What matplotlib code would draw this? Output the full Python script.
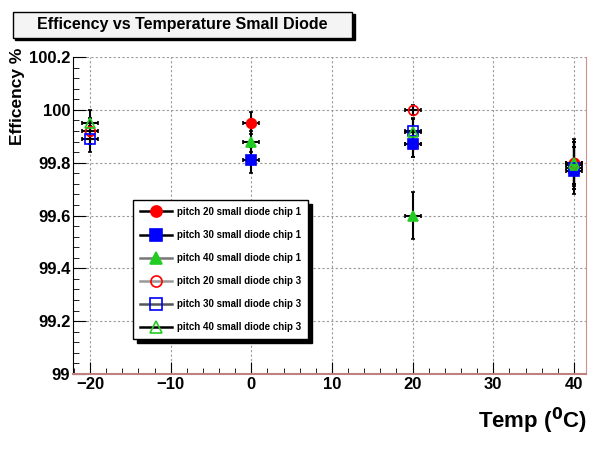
import matplotlib.pyplot as plt
from matplotlib.ticker import MultipleLocator, FormatStrFormatter
from matplotlib.patches import Rectangle
from matplotlib.lines import Line2D

plt.rcParams['font.family'] = ['Liberation Sans', 'DejaVu Sans']
plt.rcParams['font.weight'] = 'bold'

# temperatures (deg C)
temp_chip1 = [0, 20, 40]
temp_chip3 = [-20, 20, 40]

# efficiency (%) and errors, chip 1
p20_chip1 = [99.95, 99.87, 99.80]
p30_chip1 = [99.81, 99.87, 99.77]
p40_chip1 = [99.88, 99.60, 99.79]
p20_chip1_err = [0.04, 0.05, 0.09]
p30_chip1_err = [0.05, 0.05, 0.09]
p40_chip1_err = [0.04, 0.09, 0.09]

# chip 3
p20_chip3 = [99.92, 100.00, 99.80]
p30_chip3 = [99.89, 99.92, 99.78]
p40_chip3 = [99.95, 99.915, 99.80]
p20_chip3_err = [0.05, 0.02, 0.08]
p30_chip3_err = [0.05, 0.05, 0.08]
p40_chip3_err = [0.05, 0.05, 0.08]

labels = ["pitch 20 small diode chip 1", "pitch 30 small diode chip 1",
          "pitch 40 small diode chip 1", "pitch 20 small diode chip 3",
          "pitch 30 small diode chip 3", "pitch 40 small diode chip 3"]

fig = plt.figure(figsize=(5.89, 4.49), dpi=100)
ax = fig.add_axes([0.124, 0.167, 0.871, 0.706])

series = [
    (temp_chip1, p20_chip1, p20_chip1_err, 'o', 'red', True, 'black'),
    (temp_chip1, p30_chip1, p30_chip1_err, 's', 'blue', True, 'black'),
    (temp_chip1, p40_chip1, p40_chip1_err, '^', '#22cc22', True, '#777777'),
    (temp_chip3, p20_chip3, p20_chip3_err, 'o', 'red', False, '#999999'),
    (temp_chip3, p30_chip3, p30_chip3_err, 's', 'blue', False, '#555555'),
    (temp_chip3, p40_chip3, p40_chip3_err, '^', '#22cc22', False, 'black'),
]
handles = []
for (x, y, e, m, c, filled, lc), lab in zip(series, labels):
    ax.errorbar(x, y, yerr=e, xerr=1.0, fmt=m, color='black', ecolor='black',
                elinewidth=1.5, capsize=1.5, markersize=7,
                markerfacecolor=c if filled else 'none',
                markeredgecolor=c, markeredgewidth=1.2, zorder=3)
    handles.append(Line2D([], [], color=lc, linewidth=1.8, marker=m, markersize=8,
                          markerfacecolor=c if filled else 'none',
                          markeredgecolor=c, markeredgewidth=1.2, label=lab))

ax.set_xlim(-22.1, 41.5)
ax.set_ylim(99, 100.2)
ax.xaxis.set_major_locator(MultipleLocator(10))
ax.xaxis.set_minor_locator(MultipleLocator(2))
ax.yaxis.set_major_locator(MultipleLocator(0.2))
ax.yaxis.set_minor_locator(MultipleLocator(0.04))
ax.yaxis.set_major_formatter(FormatStrFormatter('%g'))
ax.tick_params(which='both', direction='in', top=False, right=False,
               labelsize=12, pad=2)
ax.tick_params(which='major', length=9)
ax.tick_params(which='minor', length=4)
ax.grid(True, which='major', linestyle=(0, (2, 2)), color='#999999', linewidth=0.8)

ax.spines['top'].set_visible(False)
ax.spines['left'].set_color('black')
ax.spines['bottom'].set_color('#c08080')
ax.spines['right'].set_color('#d09090')
ax.spines['bottom'].set_linewidth(1.5)

leg = ax.legend(handles=handles, loc='upper left', bbox_to_anchor=(0.117, 0.549),
                fontsize=7, frameon=True, fancybox=False,
                shadow={'color': 'black', 'alpha': 1, 'ox': 3, 'oy': -3},
                edgecolor='black', borderpad=0.7, labelspacing=1.35,
                handlelength=3.3, handletextpad=0.5, borderaxespad=0)
leg.get_frame().set_linewidth(1.0)

# title box with shadow
fig.patches.append(Rectangle((0.026, 0.911), 0.576, 0.058, transform=fig.transFigure,
                             facecolor='black', edgecolor='black', zorder=1))
fig.patches.append(Rectangle((0.022, 0.916), 0.576, 0.058, transform=fig.transFigure,
                             facecolor='#f4f4f4', edgecolor='black', linewidth=1.0, zorder=2))
fig.text(0.31, 0.945, "Efficency vs Temperature Small Diode", ha='center', va='center',
         fontsize=11.5, fontweight='bold', zorder=3)

fig.text(0.03, 0.893, "Efficency %", rotation=90, ha='center', va='top',
         fontsize=12.5, fontweight='bold')
fig.text(0.997, 0.03, r"Temp ($^{0}$C)", ha='right', va='bottom',
         fontsize=16, fontweight='bold')

fig.savefig('out.png', dpi=100)
